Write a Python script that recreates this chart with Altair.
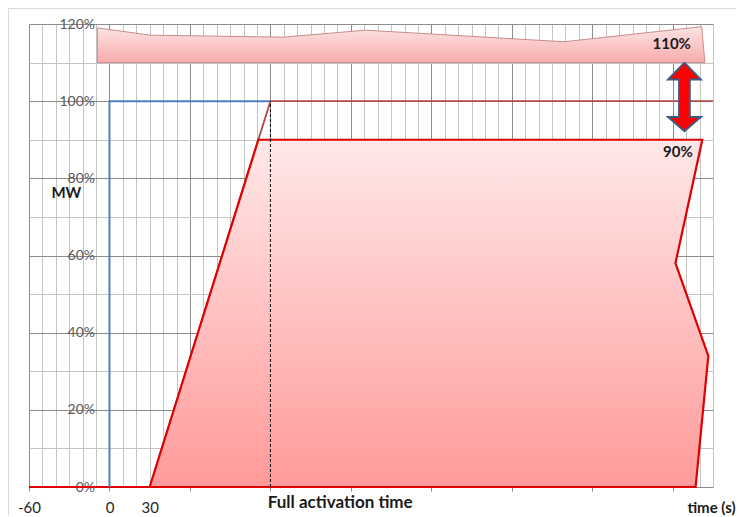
import altair as alt
import pandas as pd

# ---- data (seconds, % of MW) ----
x_grid = list(range(-60, 451, 10))
y_grid = list(range(0, 121, 10))
x_labels = [-60, 0, 30]

blue_x = [0, 0, 120]
blue_y = [0, 100, 100]

resp_x = [30, 120, 450]
resp_y = [0, 100, 100]

band_x = [-60, 30, 111, 442, 422, 446.5, 437, 30]
band_y = [0, 0, 90, 90, 58, 34, 0, 0]

top_x = [-9, -9, 30.5, 130, 191, 339, 441.5, 444, -9]
top_y = [110, 119, 117.1, 116.6, 118.4, 115.4, 119.3, 110, 110]

arrow_x = [428.7, 440.9, 432.7, 432.7, 440.9, 428.7, 416.5, 424.7, 424.7, 416.5, 428.7]
arrow_y = [110, 105.6, 105.6, 95.9, 95.9, 92.2, 95.9, 95.9, 105.6, 105.6, 110]

dash_x = [120, 120]
dash_y = [0, 100]

pct_text = ["110%", "90%", "MW"]
pct_x = [419.2, 423.8, -32.1]
pct_y = [113.6, 85.5, 74.9]

fat_text = ["Full activation time"]
fat_x = [118]
fat_y = [-5.5]

ts_text = ["time (s)"]
ts_x = [466.8]
ts_y = [-6.8]


def path(xs, ys):
    return pd.DataFrame({"x": xs, "y": ys, "i": list(range(len(xs)))})


X = alt.X(
    "x:Q",
    scale=alt.Scale(domain=[-60, 450], nice=False, zero=False),
    axis=alt.Axis(
        title=None,
        values=x_grid,
        domain=False,
        grid=True,
        gridColor={"condition": {"test": "datum.value % 60 === 0", "value": "#8c8c8c"}, "value": "#c4c4c4"},
        gridWidth=1,
        ticks=True,
        tickSize=4,
        tickColor={"condition": {"test": "datum.value % 60 === 0", "value": "#8c8c8c"}, "value": "transparent"},
        labelExpr="indexof([-60, 0, 30], datum.value) >= 0 ? '' + datum.value : ''",
        labelOverlap=False,
        labelFlush=False,
        labelPadding=9,
        labelFont="Lato",
        labelFontSize=15,
        labelColor="#262626",
    ),
)
Y = alt.Y(
    "y:Q",
    scale=alt.Scale(domain=[0, 120], nice=False, zero=False),
    axis=alt.Axis(
        title=None,
        values=y_grid,
        domain=False,
        ticks=False,
        grid=True,
        gridColor={"condition": {"test": "datum.value % 20 === 0", "value": "#8c8c8c"}, "value": "#c4c4c4"},
        gridWidth=1,
        offset=-80.5,
        labelPadding=15,
        labelExpr="datum.value % 20 === 0 ? datum.value + '%' : ''",
        labelOverlap=False,
        labelFlush=False,
        labelFont="Lato",
        labelFontSize=14,
        labelColor="#595959",
    ),
)
O = alt.Order("i:Q")

top_band = alt.Chart(path(top_x, top_y)).mark_line(
    fill={"gradient": "linear", "x1": 0, "y1": 0, "x2": 0, "y2": 1,
          "stops": [{"offset": 0, "color": "#fde4e4"}, {"offset": 1, "color": "#f8abab"}]},
    stroke="#c98c8c", strokeWidth=1,
).encode(x=X, y=Y, order=O)

resp = alt.Chart(path(resp_x, resp_y)).mark_line(
    stroke="#b5494a", strokeWidth=1.8
).encode(x=X, y=Y, order=O)

band = alt.Chart(path(band_x, band_y)).mark_line(
    fill={"gradient": "linear", "x1": 0, "y1": 0, "x2": 0, "y2": 1,
          "stops": [{"offset": 0, "color": "#ffe8e8"}, {"offset": 1, "color": "#ff9a9a"}]},
    stroke="#e00000", strokeWidth=2.2, strokeJoin="miter",
).encode(x=X, y=Y, order=O)

blue = alt.Chart(path(blue_x, blue_y)).mark_line(
    stroke="#4f81bd", strokeWidth=2
).encode(x=X, y=Y, order=O)

dash = alt.Chart(path(dash_x, dash_y)).mark_line(
    stroke="#000000", strokeWidth=1, strokeDash=[3, 2]
).encode(x=X, y=Y, order=O)

arrow = alt.Chart(path(arrow_x, arrow_y)).mark_line(
    fill="#ff0000", stroke="#3f5b82", strokeWidth=2, strokeJoin="miter",
).encode(x=X, y=Y, order=O)

pct = alt.Chart(pd.DataFrame({"x": pct_x, "y": pct_y, "t": pct_text})).mark_text(
    font="Lato", fontSize=15, fontWeight="bold", color="#1a1a1a", align="center", baseline="alphabetic"
).encode(x=X, y=Y, text="t:N")

fat = alt.Chart(pd.DataFrame({"x": fat_x, "y": fat_y, "t": fat_text})).mark_text(
    font="Lato", fontSize=17, fontWeight="bold", color="#1a1a1a", align="left", baseline="alphabetic"
).encode(x=X, y=Y, text="t:N")

ts = alt.Chart(pd.DataFrame({"x": ts_x, "y": ts_y, "t": ts_text})).mark_text(
    font="Lato", fontSize=15, fontWeight="bold", color="#1a1a1a", align="right", baseline="alphabetic"
).encode(x=X, y=Y, text="t:N")

one = pd.DataFrame({"a": [0]})
frame_left = alt.Chart(one).mark_rule(color="#d9d9d9", strokeWidth=1).encode(
    x=alt.value(-20.5), y=alt.value(-15.5), y2=alt.value(520)
)
frame_top = alt.Chart(one).mark_rule(color="#d9d9d9", strokeWidth=1).encode(
    x=alt.value(-20.5), x2=alt.value(740), y=alt.value(-15.5)
)

chart = alt.layer(
    frame_left, frame_top, top_band, resp, band, blue, dash, arrow, pct, fat, ts
).properties(
    width=684,
    height=463,
    autosize=alt.AutoSizeParams(type="none"),
    padding={"left": 21, "top": 16, "right": 23, "bottom": 29},
).configure_view(strokeWidth=0)

chart.save("out.html", embed_options={"renderer": "svg", "actions": False})
